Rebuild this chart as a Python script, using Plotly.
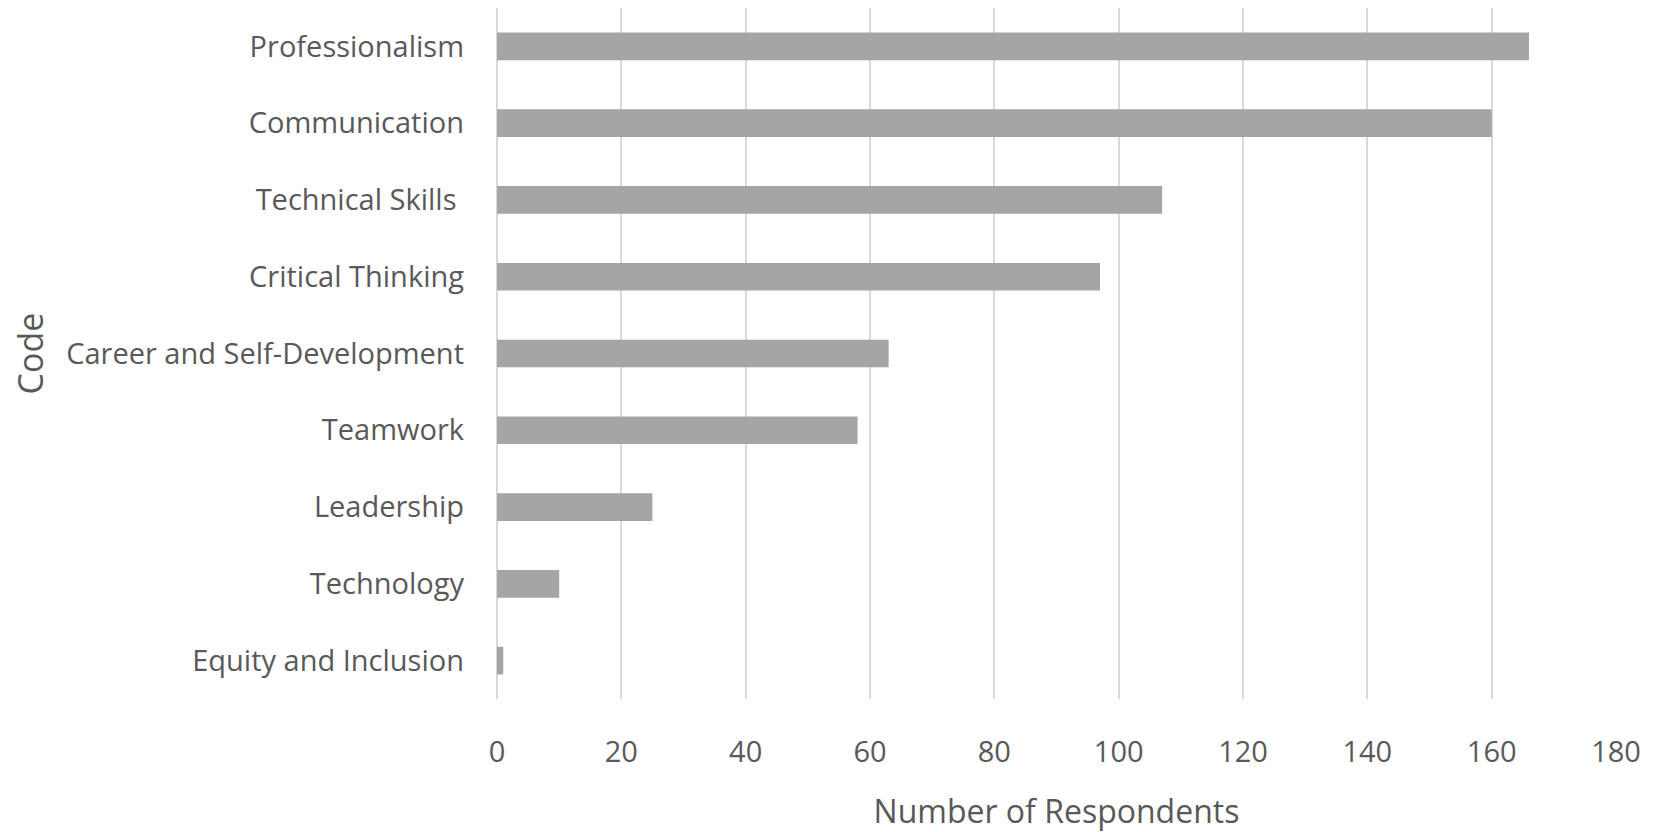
import plotly.graph_objects as go

categories = ["Professionalism", "Communication", "Technical Skills\u00a0", "Critical Thinking",
              "Career and Self-Development", "Teamwork", "Leadership", "Technology",
              "Equity and Inclusion"]
respondents = [166, 160, 107, 97, 63, 58, 25, 10, 1]
x_ticks = [0, 20, 40, 60, 80, 100, 120, 140, 160, 180]

TEXT = "#595959"
FONT = "Open Sans"

fig = go.Figure(go.Bar(
    x=respondents, y=categories, orientation="h",
    marker=dict(color="#A5A5A5", line=dict(width=0)),
    hoverinfo="x+y",
))

fig.update_layout(
    width=1657, height=832,
    margin=dict(l=497, r=41, t=8, b=133),
    plot_bgcolor="white", paper_bgcolor="white",
    bargap=0.64,
    showlegend=False,
    font=dict(family=FONT, color=TEXT, size=29),
)
fig.update_xaxes(
    range=[0, 180], tickvals=x_ticks, ticktext=[str(v) for v in x_ticks],
    showgrid=True, gridcolor="#D9D9D9", gridwidth=1.5,
    zeroline=True, zerolinecolor="#D9D9D9", zerolinewidth=1.5,
    showline=False, ticks="", ticklabelstandoff=33,
    tickfont=dict(size=29, color=TEXT, family=FONT),
    title=dict(text="Number of Respondents", font=dict(size=32, color=TEXT, family=FONT), standoff=32),
)
fig.update_yaxes(
    categoryorder="array", categoryarray=categories, autorange="reversed",
    showgrid=False, showline=False, ticks="", ticklabelstandoff=32,
    tickfont=dict(size=29, color=TEXT, family=FONT),
    title=dict(text="Code", font=dict(size=34, color=TEXT, family=FONT), standoff=12),
)

fig.write_html("out.html")
